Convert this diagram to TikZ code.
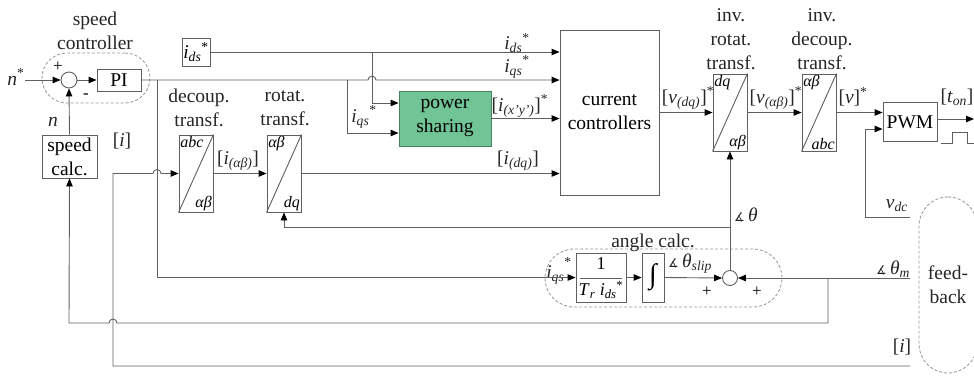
\documentclass[tikz,border=0pt]{standalone}
\usepackage{fontspec}
\setmainfont{Liberation Serif}
\newfontfamily\symf{DejaVu Sans}
\usetikzlibrary{arrows.meta}
\definecolor{lc}{RGB}{95,95,95}
\definecolor{dc}{RGB}{150,150,150}
\definecolor{psfill}{RGB}{112,196,150}
\definecolor{psdraw}{RGB}{70,130,95}
\newcommand{\sbs}[1]{\textsubscript{\textit{#1}}}
\newcommand{\spx}{\textsuperscript{*}}
\newcommand{\angl}{{\symf\fontsize{12}{12}\selectfont ∡}}
\begin{document}
\begin{tikzpicture}[x=1pt,y=-1pt,
  font=\fontsize{19.5}{24}\selectfont,
  line/.style={draw=lc, line width=0.9pt},
  arr/.style={line, -{Triangle[length=8pt,width=6.5pt,color=black]}},
  blk/.style={draw=lc, line width=0.9pt, fill=white, inner sep=0pt},
  sumc/.style={draw=lc, line width=0.9pt, fill=white, circle, inner sep=0pt},
  grp/.style={draw=dc, line width=0.8pt, dash pattern=on 3pt off 2pt, inner sep=0pt},
  tbox/.style={blk, minimum width=34pt, minimum height=77pt},
  crn/.style={font=\fontsize{16}{16}\selectfont\itshape, inner sep=1.5pt},
  lab/.style={inner sep=0pt, text=black!85},
  ttl/.style={align=center, inner sep=0pt, text=black!85},
  sgn/.style={inner sep=0pt, font=\fontsize{17}{17}\selectfont}]
\useasboundingbox (0,0) rectangle (974,375);

% groups
\node[grp, minimum width=108pt, minimum height=50pt, rounded corners=25pt] (scgrp) at (96,78) {};
\node[grp, minimum width=237pt, minimum height=58pt, rounded corners=29pt] (acgrp) at (663.5,278) {};
\node[grp, minimum width=58pt, minimum height=176pt, rounded corners=29pt, align=center, text=black!85] (fb) at (948,285) {feed-\\back};

% blocks
\node[sumc, minimum size=16pt] (sum1) at (69,80) {};
\node[blk, minimum width=44pt, minimum height=22pt] (pi) at (119,80) {PI};
\node[blk, minimum width=55pt, minimum height=43pt, align=center] (spd) at (69.5,156.5) {speed\\calc.};
\node[blk, minimum width=28pt, minimum height=28pt] (ids) at (196,52) {\textit{i}\sbs{ds}\spx};
\node[tbox] (dec) at (196,173.5) {};
\node[tbox] (rot) at (284,173.5) {};
\node[draw=psdraw, line width=0.9pt, fill=psfill, inner sep=0pt, minimum width=92pt, minimum height=55pt, align=center] (ps) at (445,118.5) {power\\sharing};
\node[blk, minimum width=99pt, minimum height=165pt, align=center] (cc) at (609.5,112.5) {current\\controllers};
\node[tbox] (irot) at (730,112.5) {};
\node[tbox] (idec) at (819,112.5) {};
\node[blk, minimum width=54pt, minimum height=39pt] (pwm) at (910,122) {PWM};
\node[blk, minimum width=50pt, minimum height=49pt, font=\fontsize{18}{20}\selectfont] (gain) at (601,277.5) {};
\node[inner sep=0pt, font=\fontsize{18}{18}\selectfont] (g1) at (601,264) {1};
\node[inner sep=0pt, font=\fontsize{18}{18}\selectfont] (g2) at (601,290) {\textit{T}\sbs{r} \textit{i}\sbs{ds}\spx};
\draw[line, line width=0.6pt] (580,278) -- (622,278);
\node[blk, minimum width=22pt, minimum height=49pt, font=\fontsize{28}{28}\selectfont] (integ) at (653,277.5) {∫};
\node[sumc, minimum size=15pt] (sum2) at (730,278) {};

% transform box diagonals and corner labels
\foreach \b/\tl/\br in {dec/abc/αβ, rot/αβ/dq, irot/dq/αβ, idec/αβ/abc}{
  \draw[line] (\b.south west) -- (\b.north east);
  \node[crn, anchor=north west] at (\b.north west) {\tl};
  \node[crn, anchor=south east] at (\b.south east) {\br};
}

% titles
\node[ttl] (tsc) at (95,31) {speed\\controller};
\node[ttl] (tdec) at (199,108) {decoup.\\transf.};
\node[ttl] (trot) at (285,108) {rotat.\\transf.};
\node[ttl] (tirot) at (731,39) {inv.\\rotat.\\transf.};
\node[ttl] (tidec) at (822,39) {inv.\\decoup.\\transf.};
\node[ttl] (tac) at (653,243) {angle calc.};

% coordinates
\coordinate (nin) at (25,80);
\coordinate (b1) at (157,80);
\coordinate (b2) at (347,80);
\coordinate (b3) at (372,52);
\coordinate (fbi) at (910,366);
\coordinate (fbv) at (910,217);
\coordinate (fbt) at (910,278);
\coordinate (bm) at (828,278);
\coordinate (bt) at (730,227);
\coordinate (pend) at (974,119);

% labels
\node[lab] (lnstar) at (16,77) {\textit{n}\spx};
\node[lab] (ln) at (53,122) {\textit{n}};
\node[sgn] (p1) at (58,67) {+};
\node[sgn] (m1) at (86,96) {-};
\node[lab] (li1) at (122,141) {[\textit{i}]};
\node[lab] (li2) at (902,347) {[\textit{i}]};
\node[lab] (lids) at (517,43) {\textit{i}\sbs{ds}\spx};
\node[lab] (liqs) at (517,67) {\textit{i}\sbs{qs}\spx};
\node[lab] (liqs2) at (364,117) {\textit{i}\sbs{qs}\spx};
\node[lab] (lixy) at (520,106) {[\textit{i}\sbs{(x'y')}]\spx};
\node[lab] (liab) at (238,161) {[\textit{i}\sbs{(αβ)}]};
\node[lab] (lidq) at (518,161) {[\textit{i}\sbs{(dq)}]};
\node[lab] (lvdq) at (688,98) {[\textit{v}\sbs{(dq)}]\spx};
\node[lab] (lvab) at (776,98) {[\textit{v}\sbs{(αβ)}]\spx};
\node[lab] (lv) at (853,97) {[\textit{v}]\spx};
\node[lab] (lton) at (957,97) {[\textit{t}\sbs{on}]};
\node[lab] (lvdc) at (897,206) {\textit{v}\sbs{dc}};
\node[lab] (lth) at (746,215) {\angl\,\textit{θ}};
\node[lab] (lthm) at (893,269) {\angl\,\textit{θ}\sbs{m}};
\node[lab] (lths) at (690,264) {\angl\,\textit{θ}\sbs{slip}};
\node[lab] (liqs3) at (559,271) {\textit{i}\sbs{qs}\raisebox{5pt}{\spx}};
\node[sgn] (p2) at (707,292) {+};
\node[sgn] (p3) at (757,292) {+};

% connectors
\draw[arr] (nin) -- (sum1.west);
\draw[arr] (sum1.east) -- (pi.west);
\draw[arr] (spd.north) -- (sum1.south);
\draw[arr] (pi.east) -- (368,80) arc[start angle=180,end angle=360,radius=4] -- (cc.west |- pi.east);
\draw[arr] (ids.east) -- (cc.west |- ids.east);
\draw[arr] (b3) |- (ps.west |- 0,103);
\draw[arr] (b2) |- (ps.west |- 0,133);
\draw[arr] (ps.east) -- (cc.west |- ps.east);
\draw[arr] (b1) |- (gain.west);
\draw[arr] (fbi) -- (113,366) -- (113,173.5) -- (153,173.5) arc[start angle=180,end angle=360,radius=4] -- (dec.west);
\draw[arr] (dec.east) -- (rot.west);
\draw[arr] (rot.east) -- (cc.west |- rot.east);
\draw[arr] (cc.east |- irot.west) -- (irot.west);
\draw[arr] (irot.east) -- (idec.west);
\draw[arr] (idec.east) -- (pwm.west |- idec.east);
\draw[arr] (fbv) -- (865,217) |- (pwm.west |- 0,129);
\draw[arr] (pwm.east |- pend) -- (pend);
\draw[line] (941,143) -- (952,143) -- (952,132) -- (967,132) -- (967,143) -- (976,143);
\draw[arr] (fbt) -- (sum2.east);
\draw[arr] (bm) -- (828,323) -- (117,323) arc[start angle=360,end angle=180,radius=4] -- (69,323) -- (spd.south);
\draw[arr] (sum2.north) -- (irot.south);
\draw[arr] (bt) -- (284,227) -- (rot.south);
\draw[arr] (gain.east) -- (integ.west);
\draw[arr] (integ.east) -- (sum2.west);
\end{tikzpicture}
\end{document}
